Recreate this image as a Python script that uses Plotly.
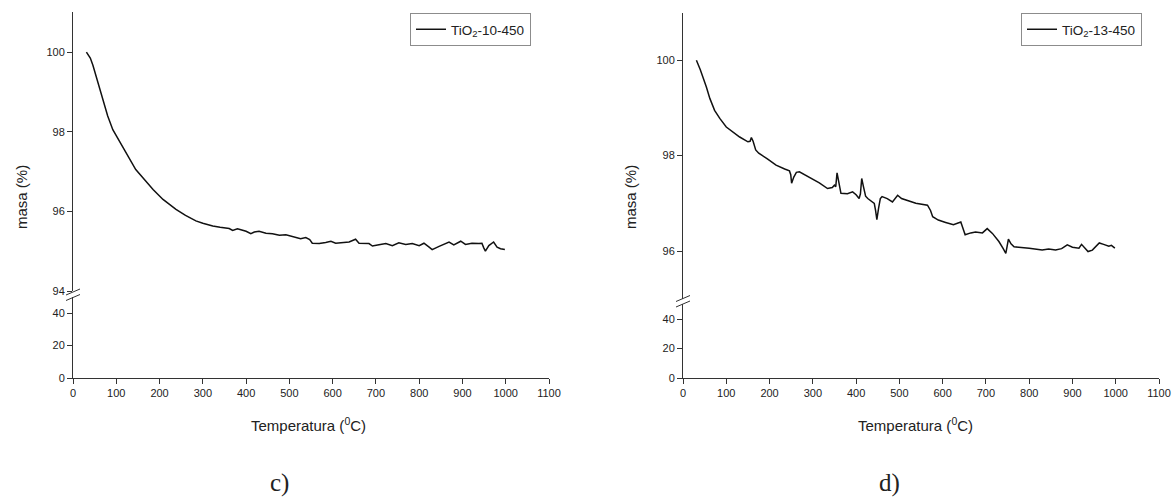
import plotly.graph_objects as go

# design coordinates are given for a 1175x500 picture; the figure itself is
# drawn slightly larger because the page is shrunk to fit the window
W, H = 1175, 500
FIG_W, FIG_H = 1190, 506

# ---------------- data ----------------
temp_c = [31, 40, 46, 55, 69, 80, 92, 110, 131, 145, 161, 185, 208, 220, 238, 260, 284, 300, 323, 340,
          361, 369, 380, 388, 400, 411, 419, 430, 438, 446, 461, 477, 492, 503, 515, 526, 538, 547, 553,
          569, 584, 596, 607, 623, 638, 653, 661, 684, 692, 707, 723, 738, 753, 769, 784, 800, 811, 823,
          830, 846, 861, 869, 880, 896, 907, 922, 938, 945, 949, 953, 961, 972, 980, 988, 998]
mass_c = [100.0, 99.85, 99.67, 99.35, 98.8, 98.4, 98.05, 97.7, 97.3, 97.05, 96.85, 96.55, 96.3, 96.2,
          96.05, 95.9, 95.76, 95.7, 95.63, 95.6, 95.57, 95.52, 95.56, 95.54, 95.50, 95.44, 95.48, 95.50,
          95.48, 95.45, 95.44, 95.40, 95.41, 95.38, 95.35, 95.31, 95.34, 95.29, 95.20, 95.19, 95.22, 95.25,
          95.20, 95.21, 95.23, 95.30, 95.20, 95.19, 95.13, 95.16, 95.19, 95.14, 95.21, 95.17, 95.19, 95.14,
          95.20, 95.10, 95.04, 95.12, 95.19, 95.23, 95.16, 95.25, 95.17, 95.20, 95.19, 95.20, 95.09, 95.00,
          95.14, 95.23, 95.10, 95.06, 95.04]

temp_d = [31, 40, 54, 62, 73, 85, 100, 115, 131, 150, 155, 158, 162, 168, 175, 195, 215, 235, 246, 249,
          251, 256, 262, 269, 290, 315, 334, 345, 350, 353, 356, 360, 365, 380, 392, 400, 407, 410, 413,
          417, 422, 427, 442, 445, 448, 452, 456, 460, 472, 484, 490, 496, 505, 520, 538, 565, 572, 577,
          590, 607, 625, 642, 647, 652, 665, 676, 692, 703, 715, 730, 740, 746, 749, 752, 758, 765, 800,
          815, 830, 845, 861, 875, 888, 900, 915, 921, 930, 936, 946, 955, 962, 972, 984, 990, 998]
mass_d = [100.0, 99.8, 99.44, 99.2, 98.95, 98.78, 98.6, 98.5, 98.39, 98.29, 98.3, 98.38, 98.3, 98.12,
          98.05, 97.93, 97.8, 97.72, 97.68, 97.6, 97.42, 97.55, 97.65, 97.66, 97.55, 97.43, 97.31, 97.33,
          97.38, 97.35, 97.64, 97.45, 97.21, 97.2, 97.24, 97.18, 97.1, 97.2, 97.52, 97.35, 97.15, 97.1,
          97.0, 96.85, 96.66, 96.9, 97.1, 97.14, 97.1, 97.03, 97.1, 97.17, 97.1, 97.05, 97.0, 96.96, 96.85,
          96.72, 96.65, 96.6, 96.55, 96.61, 96.45, 96.34, 96.38, 96.4, 96.38, 96.47, 96.37, 96.2, 96.05,
          95.95, 96.1, 96.25, 96.15, 96.09, 96.06, 96.04, 96.02, 96.04, 96.02, 96.05, 96.13, 96.08, 96.06,
          96.14, 96.05, 95.99, 96.02, 96.1, 96.17, 96.14, 96.1, 96.12, 96.06]

name_c = "TiO<sub>2</sub>-10-450"
name_d = "TiO<sub>2</sub>-13-450"
x_ticks = list(range(0, 1101, 100))
y_ticks_c = [94, 96, 98, 100]
y_ticks_d = [96, 98, 100]
y_ticks_low = [0, 20, 40]
x_title = "Temperatura (<sup>0</sup>C)"
y_title = "masa (%)"

# ---------------- helpers ----------------
def fx(px):
    return px / W

def fy(py):
    return 1 - py / H

AX = "#333333"
TICKFONT = dict(family="Liberation Sans, Arial", size=11, color="#222222")

def yax(dom, rng, ticks, anchor):
    return dict(domain=dom, range=rng, tickvals=ticks, anchor=anchor, showline=True, linecolor=AX,
                linewidth=1, ticks="outside", ticklen=5, tickwidth=1, tickcolor=AX, showgrid=False,
                zeroline=False, tickfont=TICKFONT, fixedrange=True)

def xax(dom, anchor, visible):
    d = dict(domain=dom, range=[0, 1100], anchor=anchor, showgrid=False, zeroline=False,
             fixedrange=True)
    if visible:
        d.update(showline=True, linecolor=AX, linewidth=1, ticks="outside", ticklen=5, tickwidth=1,
                 tickcolor=AX, tickvals=x_ticks, tickfont=TICKFONT)
    else:
        d.update(visible=False)
    return d

fig = go.Figure()
line = dict(color="#111111", width=1.5)
fig.add_trace(go.Scatter(x=temp_c, y=mass_c, mode="lines", line=line, name=name_c,
                         xaxis="x", yaxis="y", legend="legend"))
fig.add_trace(go.Scatter(x=temp_c, y=mass_c, mode="lines", line=line, showlegend=False,
                         xaxis="x2", yaxis="y2"))
fig.add_trace(go.Scatter(x=temp_d, y=mass_d, mode="lines", line=line, name=name_d,
                         xaxis="x3", yaxis="y3", legend="legend2"))
fig.add_trace(go.Scatter(x=temp_d, y=mass_d, mode="lines", line=line, showlegend=False,
                         xaxis="x4", yaxis="y4"))

xl = [fx(70), fx(546)]
xr = [fx(680), fx(1156)]

legend_style = dict(bordercolor="#8c8c8c", borderwidth=1, bgcolor="white",
                    font=dict(family="Liberation Sans, Arial", size=13.5, color="#222222"),
                    xanchor="left", yanchor="top", tracegroupgap=0, itemwidth=30)

shapes = []
def brk(xc, yc):
    shapes.append(dict(type="line", xref="paper", yref="paper",
                       x0=fx(xc - 7), y0=fy(yc + 3), x1=fx(xc + 7), y1=fy(yc - 3),
                       line=dict(color=AX, width=1)))
brk(70, 292)
brk(70, 297.5)
brk(680, 298.5)
brk(680, 304)

ann = []
def txt(x, y, s, size, angle=0, family="Liberation Sans, Arial"):
    ann.append(dict(xref="paper", yref="paper", x=fx(x), y=fy(y), text=s, showarrow=False,
                    textangle=angle, xanchor="center", yanchor="middle",
                    font=dict(family=family, size=size, color="#222222")))

txt(18, 197, y_title, 15, -90)
txt(627, 197, y_title, 15, -90)
txt(305, 424, x_title, 15)
txt(912, 424, x_title, 15)
txt(276, 483, "c)", 25, 0, "Liberation Serif, Times New Roman")
txt(886, 483, "d)", 25, 0, "Liberation Serif, Times New Roman")

fig.update_layout(
    width=FIG_W, height=FIG_H, autosize=False,
    margin=dict(l=0, r=0, t=0, b=0),
    paper_bgcolor="white", plot_bgcolor="white",
    showlegend=True,
    xaxis=xax(xl, "y", False),
    yaxis=yax([fy(291), fy(12.25)], [94, 101], y_ticks_c, "x"),
    xaxis2=xax(xl, "y2", True),
    yaxis2=yax([fy(378), fy(297)], [0, 50], y_ticks_low, "x2"),
    xaxis3=xax(xr, "y3", False),
    yaxis3=yax([fy(298.75), fy(12.5)], [95, 101], y_ticks_d, "x3"),
    xaxis4=xax(xr, "y4", True),
    yaxis4=yax([fy(378), fy(304.25)], [0, 50], y_ticks_low, "x4"),
    legend=dict(x=fx(407), y=fy(13), **legend_style),
    legend2=dict(x=fx(1018), y=fy(13), **legend_style),
    shapes=shapes,
    annotations=ann,
)

fig.write_html("out.html", config={"displayModeBar": False},
               post_script="document.body.style.margin='0';document.body.style.overflow='hidden';"
                           "document.documentElement.style.overflow='hidden';")
